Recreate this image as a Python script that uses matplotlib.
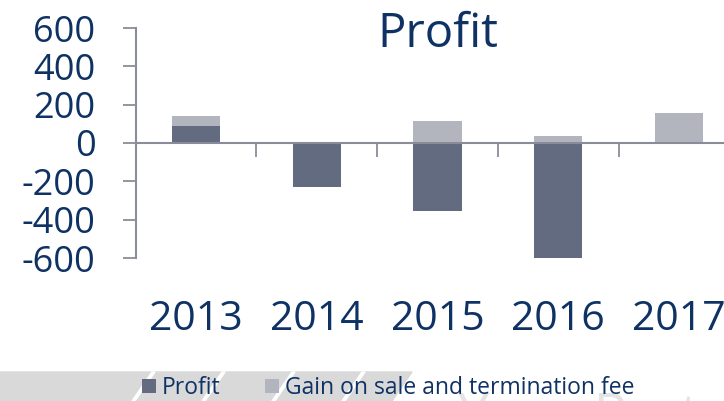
import numpy as np
import matplotlib
matplotlib.use("Agg")
import matplotlib.pyplot as plt
from matplotlib.patches import Polygon

# data
years = ["2013", "2014", "2015", "2016", "2017"]
profit = [90, -230, -355, -600, 0]
gain = [50, 0, 115, 37, 157]
y_ticks = [-600, -400, -200, 0, 200, 400, 600]

NAVY = "#0e3263"
DARK = "#636b80"
LIGHT = "#b2b5bd"
AXIS = "#8a8d99"

plt.rcParams["font.family"] = ["Open Sans", "DejaVu Sans"]
plt.rcParams["axes.unicode_minus"] = False

W, H = 724, 401
fig = plt.figure(figsize=(W / 100, H / 100), dpi=100)

# decorative footer band with slanted white stripes
fig.patches.append(Polygon([(0, 1 - 372 / H), (412 / W, 1 - 372 / H), (392 / W, 0), (0, 0)],
                           closed=True, transform=fig.transFigure, color="#d9d9d9", zorder=0))
for xb in [132, 202, 272, 342]:
    fig.patches.append(Polygon([(xb / W, 0), ((xb + 3) / W, 0), ((xb + 23) / W, 1 - 372 / H),
                                ((xb + 20) / W, 1 - 372 / H)],
                               closed=True, transform=fig.transFigure, color="white", zorder=0))
fig.text(458 / W, 1 - 391 / H, "Your Partner", fontsize=40, color="#e4e4e4",
         ha="left", va="top", zorder=0)

ax = fig.add_axes([135.6 / W, 1 - 258 / H, 603.75 / W, 230 / H])
x = np.arange(len(years))
bottom_gain = np.maximum(profit, 0)
b1 = ax.bar(x, profit, width=0.4, color=DARK, label="Profit", zorder=1)
b2 = ax.bar(x, gain, width=0.4, bottom=bottom_gain, color=LIGHT,
            label="Gain on sale and termination fee", zorder=1)

ax.set_xlim(-0.5, len(years) - 0.5)
ax.set_ylim(-600, 600)

for s in ["top", "right"]:
    ax.spines[s].set_visible(False)
ax.spines["bottom"].set_position(("data", 0))
for s in ["left", "bottom"]:
    ax.spines[s].set_color(AXIS)
    ax.spines[s].set_linewidth(1.5)

ax.set_yticks(y_ticks)
ax.tick_params(axis="y", length=9.4, width=1.3, color=AXIS, pad=19.4,
               labelsize=26, labelcolor=NAVY)

ax.set_xticks(np.arange(-0.5, len(years)), labels=[])
ax.set_xticks(x, labels=years, minor=True)
ax.tick_params(axis="x", which="major", length=10, width=1.3, color=AXIS, direction="out")
ax.tick_params(axis="x", which="minor", length=0, pad=113, labelsize=29.5, labelcolor=NAVY)

ax.text(0.5, 0.917, "Profit", transform=ax.transAxes, ha="center", va="baseline",
        fontsize=34, color=NAVY)

fig.legend(handles=[b1, b2], loc="center left", bbox_to_anchor=(142 / W, 1 - 388 / H),
           ncol=2, frameon=False, fontsize=16.5, labelcolor=NAVY,
           borderpad=0, borderaxespad=0,
           handlelength=0.62, handleheight=0.62, handletextpad=0.26, columnspacing=1.92)

fig.savefig("out.png", dpi=100)
